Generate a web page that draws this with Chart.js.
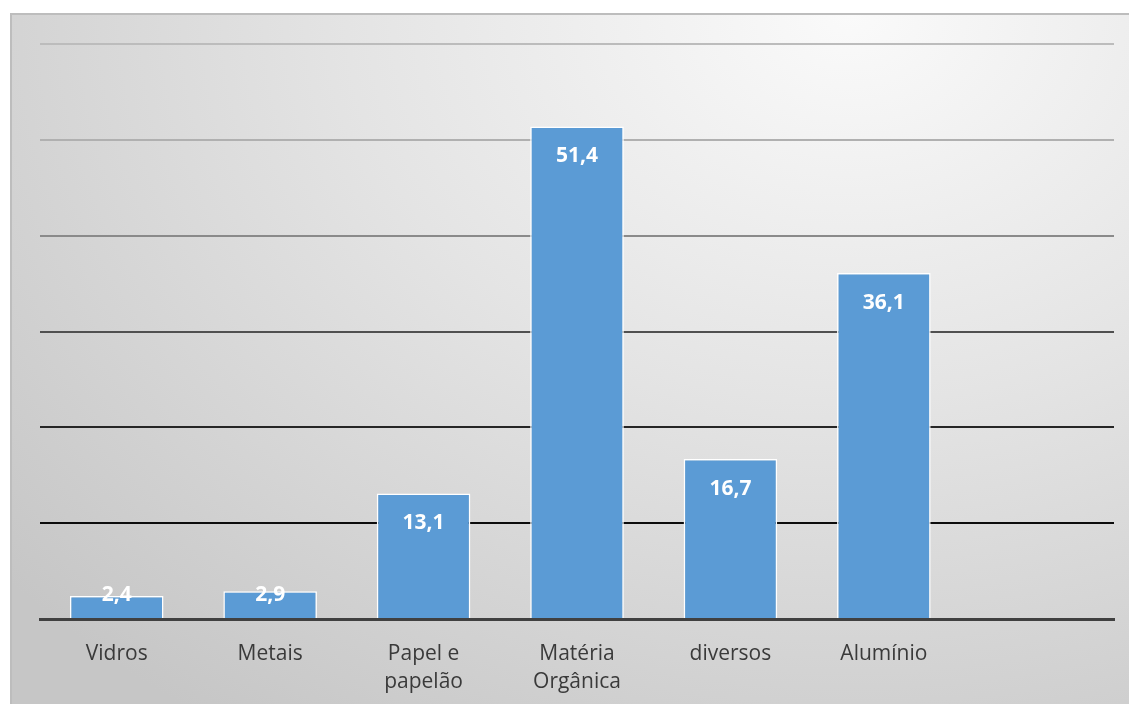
<!DOCTYPE html>
<html lang="pt">
<head>
<meta charset="utf-8">
<title>Composição dos resíduos</title>
<script src="https://cdn.jsdelivr.net/npm/chart.js@4.4.1/dist/chart.umd.min.js"></script>
<style>
    html, body {
        margin: 0;
        padding: 0;
        background: #ffffff;
        overflow: hidden;
    }
    #box {
        position: absolute;
        left: 10px;
        top: 13px;
        width: 1119px;
        height: 691px;
        overflow: hidden;
        border-top: 2px solid #bdbdbd;
        border-left: 2px solid #bdbdbd;
        box-sizing: border-box;
        background: radial-gradient(ellipse 100% 125% at 75% 0%, #fafafa 0%, #e4e4e4 45%, #c6c6c6 100%);
    }
    #chart {
        display: block;
    }
</style>
</head>
<body>
<div id="box">
    <canvas id="chart" width="1117" height="694"></canvas>
</div>
<script>
// Categorias e valores (%)
const categories = [
    'Vidros',
    'Metais',
    ['Papel e', 'papelão'],
    ['Matéria', 'Orgânica'],
    'diversos',
    'Alumínio',
    ''
];
const values = [2.4, 2.9, 13.1, 51.4, 16.7, 36.1, null];
const valueLabels = ['2,4', '2,9', '13,1', '51,4', '16,7', '36,1', ''];

// Cores das linhas de grade, de 0 a 60
const gridColors = ['#404040', '#0c0c0c', '#262626', '#505050', '#8a8a8a', '#b0b0b0', '#bcbcbc'];

// Rótulos brancos dentro das barras
const barLabels = {
    id: 'barLabels',
    afterDatasetsDraw(chart) {
        const ctx = chart.ctx;
        const meta = chart.getDatasetMeta(0);
        const base = chart.scales.y.getPixelForValue(0);
        ctx.save();
        ctx.fillStyle = '#ffffff';
        ctx.font = "bold 21px 'Open Sans'";
        ctx.textAlign = 'center';
        ctx.textBaseline = 'middle';
        meta.data.forEach((bar, i) => {
            if (values[i] === null) return;
            const y = Math.min(bar.y + 30, base - 24);
            ctx.fillText(valueLabels[i], bar.x, y);
        });
        ctx.restore();
    }
};

new Chart(document.getElementById('chart'), {
    type: 'bar',
    data: {
        labels: categories,
        datasets: [{
            data: values,
            backgroundColor: '#5b9bd5',
            borderColor: '#ffffff',
            borderWidth: 1.5,
            borderSkipped: 'bottom',
            barPercentage: 0.61,
            categoryPercentage: 1
        }]
    },
    options: {
        responsive: false,
        animation: false,
        layout: {
            padding: { left: 28, right: 15, top: 29, bottom: 0 }
        },
        plugins: {
            legend: { display: false },
            tooltip: { enabled: false }
        },
        scales: {
            x: {
                grid: { display: false },
                border: { display: true, color: '#404040', width: 3 },
                ticks: {
                    color: '#3a3a3a',
                    font: { family: "'Open Sans'", size: 21, lineHeight: 1.38 },
                    padding: 12,
                    maxRotation: 0,
                    autoSkip: false
                }
            },
            y: {
                min: 0,
                max: 60,
                ticks: { display: false, stepSize: 10 },
                border: { display: false },
                grid: {
                    drawTicks: false,
                    lineWidth: 2,
                    color: (c) => gridColors[c.index]
                }
            }
        }
    },
    plugins: [barLabels]
});
</script>
</body>
</html>
